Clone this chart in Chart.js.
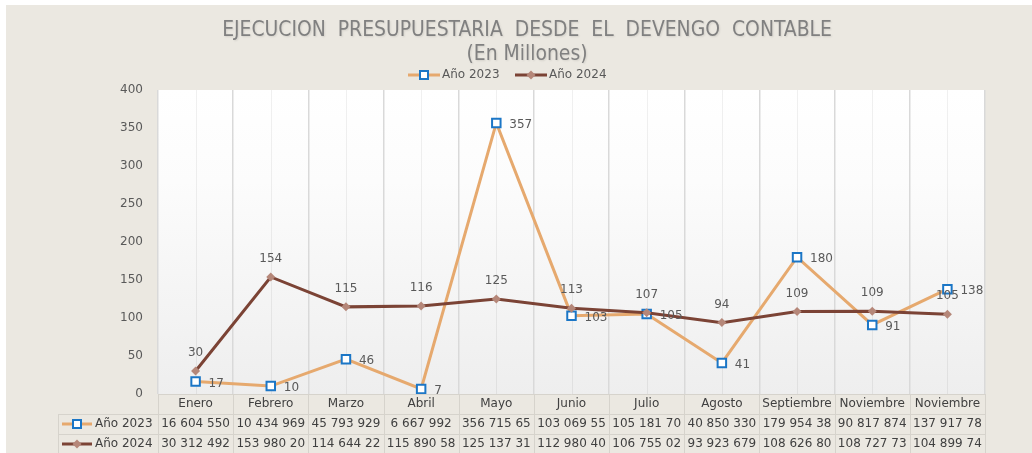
<!DOCTYPE html>
<html>
<head>
<meta charset="utf-8">
<script src="https://cdn.jsdelivr.net/npm/chart.js@4.4.0/dist/chart.umd.min.js"></script>
<style>
	html, body { margin: 0; padding: 0; background: #fff; }
	canvas { display: block; }
</style>
</head>
<body>
<canvas id="chartEjecucion" width="1032" height="453"></canvas>
<script>
// Datos (en millones)
const categorias = ['Enero', 'Febrero', 'Marzo', 'Abril', 'Mayo', 'Junio', 'Julio', 'Agosto', 'Septiembre', 'Noviembre', 'Noviembre'];
const serie2023 = [16.60, 10.43, 45.79, 6.67, 356.72, 103.07, 105.18, 40.85, 179.95, 90.82, 137.92];
const serie2024 = [30.31, 153.98, 114.64, 115.89, 125.14, 112.98, 106.76, 93.92, 108.63, 108.73, 104.90];
const tabla2023 = ['16 604 550', '10 434 969', '45 793 929', '6 667 992', '356 715 65', '103 069 55', '105 181 70', '40 850 330', '179 954 38', '90 817 874', '137 917 78'];
const tabla2024 = ['30 312 492', '153 980 20', '114 644 22', '115 890 58', '125 137 31', '112 980 40', '106 755 02', '93 923 679', '108 626 80', '108 727 73', '104 899 74'];
const ticksY = [0, 50, 100, 150, 200, 250, 300, 350, 400];
const titulo = ['EJECUCION  PRESUPUESTARIA  DESDE  EL  DEVENGO  CONTABLE', '(En Millones)'];
const nombres = ['Año 2023', 'Año 2024'];

const FUENTE = '"DejaVu Sans", Verdana, sans-serif';
const FUENTE_TITULO = '"DejaVu Sans Condensed", "DejaVu Sans", sans-serif';
const colorLinea2023 = '#E6A96E';
const colorLinea2024 = '#7B4335';
const colorCuadro = '#1B76C6';
const colorRombo = '#B58779';

// Dibuja el marcador de cada serie (leyenda y tabla)
function dibujarClave(ctx, serie, x1, x2, y) {
	ctx.save();
	ctx.lineWidth = 3;
	ctx.strokeStyle = serie === 0 ? colorLinea2023 : colorLinea2024;
	ctx.beginPath();
	ctx.moveTo(x1, y);
	ctx.lineTo(x2, y);
	ctx.stroke();
	const xm = (x1 + x2) / 2;
	if (serie === 0) {
		ctx.fillStyle = '#fff';
		ctx.fillRect(xm - 4, y - 4, 8, 8);
		ctx.lineWidth = 2;
		ctx.strokeStyle = colorCuadro;
		ctx.strokeRect(xm - 4, y - 4, 8, 8);
	} else {
		ctx.fillStyle = colorRombo;
		ctx.beginPath();
		ctx.moveTo(xm, y - 4.5);
		ctx.lineTo(xm + 4.5, y);
		ctx.lineTo(xm, y + 4.5);
		ctx.lineTo(xm - 4.5, y);
		ctx.closePath();
		ctx.fill();
	}
	ctx.restore();
}

const pluginDecoracion = {
	id: 'decoracion',
	beforeDraw(chart) {
		const { ctx, chartArea: a } = chart;
		ctx.save();
		ctx.fillStyle = '#fff';
		ctx.fillRect(0, 0, chart.width, chart.height);
		ctx.fillStyle = '#EBE8E1';
		ctx.fillRect(6, 5, chart.width - 6, chart.height - 5);
		// Fondo degradado del área de trazado
		const g = ctx.createLinearGradient(0, a.top, 0, a.bottom);
		g.addColorStop(0, '#ffffff');
		g.addColorStop(0.3, '#fcfcfc');
		g.addColorStop(1, '#eeeeee');
		ctx.fillStyle = g;
		ctx.fillRect(a.left, a.top, a.right - a.left, a.bottom - a.top);
		ctx.restore();
	},
	beforeDatasetsDraw(chart) {
		// Líneas suaves en el centro de cada categoría
		const { ctx, chartArea: a, scales } = chart;
		ctx.save();
		ctx.strokeStyle = 'rgba(0,0,0,0.06)';
		ctx.lineWidth = 1;
		categorias.forEach((c, i) => {
			const x = Math.round(scales.x.getPixelForValue(i)) + 0.5;
			ctx.beginPath();
			ctx.moveTo(x, a.top);
			ctx.lineTo(x, a.bottom);
			ctx.stroke();
		});
		ctx.restore();
	},
	afterDatasetsDraw(chart) {
		// Etiquetas de datos
		const { ctx } = chart;
		ctx.save();
		ctx.font = '12px ' + FUENTE;
		ctx.fillStyle = '#595959';
		const meta23 = chart.getDatasetMeta(1);
		const meta24 = chart.getDatasetMeta(0);
		ctx.textBaseline = 'middle';
		ctx.textAlign = 'left';
		meta23.data.forEach((p, i) => {
			ctx.fillText(String(Math.round(serie2023[i])), p.x + 13, p.y + 2);
		});
		ctx.textAlign = 'center';
		meta24.data.forEach((p, i) => {
			ctx.fillText(String(Math.round(serie2024[i])), p.x, p.y - 18);
		});
		ctx.restore();
	},
	afterDraw(chart) {
		const { ctx, chartArea: a } = chart;
		const n = categorias.length;
		const ancho = (a.right - a.left) / n;
		const y0 = a.bottom, y1 = a.bottom + 20, y2 = a.bottom + 40, y3 = a.bottom + 60;
		const xTabla = 58;
		ctx.save();

		// Tabla de datos
		ctx.strokeStyle = '#d6d3cc';
		ctx.lineWidth = 1;
		ctx.beginPath();
		ctx.moveTo(a.left, y0 + 0.5); ctx.lineTo(a.right, y0 + 0.5);
		[y1, y2, y3].forEach(y => { ctx.moveTo(xTabla, y + 0.5); ctx.lineTo(a.right, y + 0.5); });
		for (let i = 0; i <= n; i++) {
			const x = Math.round(a.left + i * ancho) + 0.5;
			ctx.moveTo(x, y0); ctx.lineTo(x, y3);
		}
		ctx.moveTo(xTabla + 0.5, y1); ctx.lineTo(xTabla + 0.5, y3);
		ctx.stroke();

		ctx.font = '12px ' + FUENTE;
		ctx.fillStyle = '#404040';
		ctx.textBaseline = 'middle';
		ctx.textAlign = 'center';
		categorias.forEach((c, i) => {
			const xc = a.left + (i + 0.5) * ancho;
			ctx.fillText(c, xc, y0 + 10);
			ctx.fillText(tabla2023[i], xc, y1 + 10);
			ctx.fillText(tabla2024[i], xc, y2 + 10);
		});
		ctx.textAlign = 'left';
		dibujarClave(ctx, 0, 62, 92, y1 + 10);
		ctx.fillText(nombres[0], 95, y1 + 10);
		dibujarClave(ctx, 1, 62, 92, y2 + 10);
		ctx.fillText(nombres[1], 95, y2 + 10);

		// Leyenda superior
		ctx.fillStyle = '#595959';
		dibujarClave(ctx, 0, 408, 440, 75);
		ctx.fillText(nombres[0], 442, 75);
		dibujarClave(ctx, 1, 515, 547, 75);
		ctx.fillText(nombres[1], 549, 75);

		// Título: se ajusta el tamaño para ocupar el ancho del original
		ctx.textAlign = 'center';
		ctx.fillStyle = '#808080';
		ctx.font = '20px ' + FUENTE_TITULO;
		const medida = ctx.measureText(titulo[0]).width;
		const tam = Math.min(22, 20 * 611 / medida);
		ctx.font = tam.toFixed(1) + 'px ' + FUENTE_TITULO;
		ctx.shadowColor = 'rgba(0,0,0,0.1)';
		ctx.shadowBlur = 2;
		ctx.shadowOffsetX = 1;
		ctx.shadowOffsetY = 1;
		ctx.fillText(titulo[0], 527, 31);
		ctx.fillText(titulo[1], 527, 55);
		ctx.restore();
	}
};

const ctx = document.getElementById('chartEjecucion').getContext('2d');

const chartEjecucion = new Chart(ctx, {
	type: 'line',
	data: {
		labels: categorias,
		datasets: [{
			label: nombres[1],
			data: serie2024,
			order: 0,
			borderColor: colorLinea2024,
			borderWidth: 3,
			tension: 0,
			pointStyle: 'rectRot',
			pointRadius: 4.5,
			pointBackgroundColor: colorRombo,
			pointBorderColor: colorRombo,
			pointBorderWidth: 0
		}, {
			label: nombres[0],
			data: serie2023,
			order: 1,
			borderColor: colorLinea2023,
			borderWidth: 3,
			tension: 0,
			pointStyle: 'rect',
			pointRadius: 6,
			pointBackgroundColor: '#fff',
			pointBorderColor: colorCuadro,
			pointBorderWidth: 2
		}]
	},
	options: {
		responsive: false,
		devicePixelRatio: 1,
		animation: false,
		layout: {
			padding: { top: 90, right: 47, bottom: 0, left: 0 }
		},
		plugins: {
			legend: { display: false },
			title: { display: false },
			tooltip: { enabled: false }
		},
		scales: {
			x: {
				offset: true,
				grid: {
					offset: true,
					color: '#d9d9d9',
					lineWidth: 1.5,
					drawTicks: false
				},
				border: { display: false },
				ticks: { display: false },
				afterFit(scale) { scale.height = 59; }
			},
			y: {
				min: 0,
				max: 400,
				grid: { display: false, drawTicks: false },
				border: { display: false },
				afterBuildTicks(scale) { scale.ticks = ticksY.map(v => ({ value: v })); },
				afterFit(scale) { scale.width = 158; },
				ticks: {
					padding: 15,
					color: '#595959',
					font: { family: FUENTE, size: 12 }
				}
			}
		}
	},
	plugins: [pluginDecoracion]
});
</script>
</body>
</html>
